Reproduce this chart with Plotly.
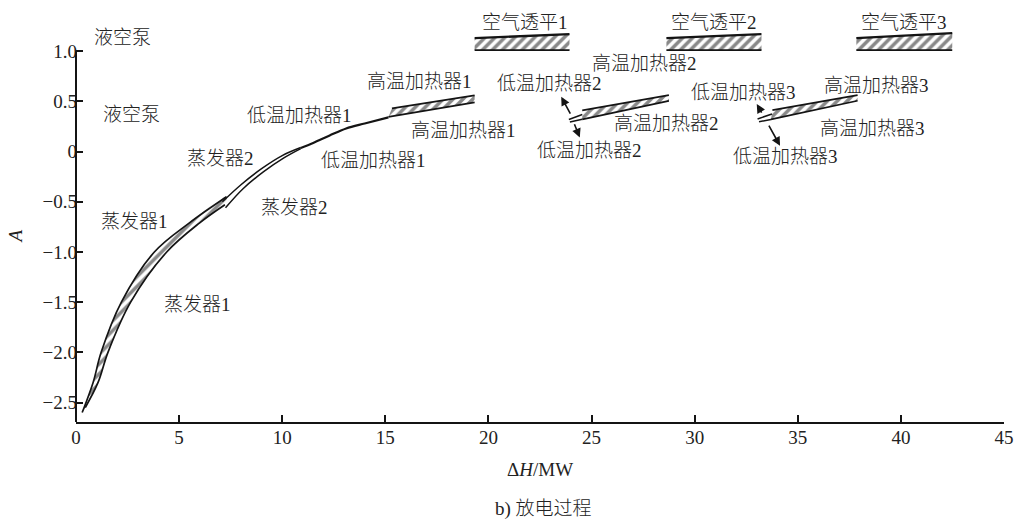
import plotly.graph_objects as go

# ---------------- data ----------------
x_ticks = [0, 5, 10, 15, 20, 25, 30, 35, 40, 45]
y_ticks = [-2.5, -2.0, -1.5, -1.0, -0.5, 0, 0.5, 1.0]
y_ticktext = ["\u22122.5", "\u22122.0", "\u22121.5", "\u22121.0", "\u22120.5", "0", "0.5", "1.0"]
x_range = [0, 45]
y_range = [-2.694, 1.5]

# evaporator 1 (hatched band between two composite curves)
evap1_hot_x = [0.30, 0.83, 1.22, 2.2, 3.8, 5.5, 7.3]
evap1_hot_a = [-2.60, -2.30, -2.00, -1.50, -1.00, -0.71, -0.45]
evap1_cold_x = [0.45, 1.07, 1.55, 2.65, 4.4, 6.0, 7.22]
evap1_cold_a = [-2.55, -2.30, -2.00, -1.50, -1.00, -0.71, -0.53]

# evaporator 2 (two close curves)
evap2_hot_x = [7.1, 8.0, 9.0, 10.0, 10.9]
evap2_hot_a = [-0.50, -0.33, -0.17, -0.04, 0.04]
evap2_cold_x = [7.25, 8.1, 9.1, 10.1, 10.9]
evap2_cold_a = [-0.56, -0.37, -0.20, -0.06, 0.03]

# low temperature heater 1
lth1_x = [10.9, 11.5, 12.3, 13.1, 14.0, 15.15]
lth1_a = [0.035, 0.085, 0.16, 0.23, 0.28, 0.34]

# high temperature heaters (hatched bands): upper and lower edges
hth_top_x = [[15.32, 19.33], [24.55, 28.75], [33.77, 37.9]]
hth_top_a = [[0.43, 0.56], [0.41, 0.563], [0.413, 0.563]]
hth_bot_x = [[15.15, 19.33], [24.55, 28.75], [33.7, 37.9]]
hth_bot_a = [[0.345, 0.49], [0.321, 0.505], [0.32, 0.506]]

# low temperature heaters 2 and 3 (short double segments)
lth_seg_x = [[[23.9, 24.55], [23.95, 24.55]], [[33.05, 33.75], [33.12, 33.7]]]
lth_seg_a = [[[0.32, 0.37], [0.295, 0.321]], [[0.325, 0.375], [0.297, 0.32]]]

# air turbines (hatched bands)
at_x = [[19.33, 23.93], [28.63, 33.24], [37.84, 42.49]]
at_top_a = [[1.13, 1.17], [1.13, 1.17], [1.13, 1.18]]
at_bot_a = [[1.01, 1.01], [1.01, 1.01], [1.01, 1.01]]

# labels
label_text = ["液空泵", "液空泵", "蒸发器2", "低温加热器1", "蒸发器2", "低温加热器1",
              "高温加热器1", "高温加热器1", "蒸发器1", "蒸发器1",
              "空气透平1", "空气透平2", "空气透平3",
              "高温加热器2", "低温加热器2", "高温加热器2", "低温加热器2",
              "低温加热器3", "高温加热器3", "高温加热器3", "低温加热器3"]
label_x = [2.26, 2.67, 6.99, 10.83, 10.58, 14.42,
           16.65, 18.79, 2.86, 5.87,
           21.75, 30.92, 40.15,
           27.57, 22.96, 28.64, 24.90,
           32.38, 38.83, 38.64, 34.42]
label_a = [1.14, 0.37, -0.065, 0.36, -0.56, -0.085,
           0.70, 0.21, -0.70, -1.52,
           1.29, 1.29, 1.29,
           0.88, 0.68, 0.28, 0.015,
           0.59, 0.66, 0.23, -0.045]

# arrows (tail -> tip)
arrow_tail_x = [24.01, 24.14, 33.29, 33.56]
arrow_tail_a = [0.364, 0.287, 0.374, 0.274]
arrow_tip_x = [23.53, 24.43, 33.01, 34.14]
arrow_tip_a = [0.546, 0.141, 0.473, 0.058]

# ---------------- figure ----------------
INK = "#141414"
TXT = "#222"
FONT = "Liberation Serif, 'Noto Sans CJK SC', serif"
HATCH = dict(shape="/", fgcolor=INK, bgcolor="white", size=7, solidity=0.5)
LABEL_FONT = dict(family=FONT, size=19, color=TXT, weight=300)

fig = go.Figure()


def band(xt, at, xb, ab, shape="linear", wtop=1.7, wbot=1.7):
    fig.add_trace(go.Scatter(x=list(xt) + list(xb)[::-1], y=list(at) + list(ab)[::-1],
                             mode="lines", fill="toself", fillcolor="white",
                             fillpattern=HATCH, line=dict(width=0, shape=shape),
                             hoverinfo="skip"))
    fig.add_trace(go.Scatter(x=xt, y=at, mode="lines",
                             line=dict(color=INK, width=wtop, shape=shape), hoverinfo="skip"))
    fig.add_trace(go.Scatter(x=xb, y=ab, mode="lines",
                             line=dict(color=INK, width=wbot, shape=shape), hoverinfo="skip"))


def line(x, a, w=1.5, shape="spline"):
    fig.add_trace(go.Scatter(x=x, y=a, mode="lines",
                             line=dict(color=INK, width=w, shape=shape), hoverinfo="skip"))


band(evap1_hot_x, evap1_hot_a, evap1_cold_x, evap1_cold_a, shape="spline")
line(evap2_hot_x, evap2_hot_a)
line(evap2_cold_x, evap2_cold_a)
line(lth1_x, lth1_a, w=2.2)

for i in range(3):
    band(hth_top_x[i], hth_top_a[i], hth_bot_x[i], hth_bot_a[i])
for seg_x, seg_a in zip(lth_seg_x, lth_seg_a):
    for sx, sa in zip(seg_x, seg_a):
        line(sx, sa, w=1.5, shape="linear")
for i in range(3):
    band(at_x[i], at_top_a[i], at_x[i], at_bot_a[i], wtop=2.4, wbot=1.8)

annotations = []
for t, x, a in zip(label_text, label_x, label_a):
    annotations.append(dict(x=x, y=a, xref="x", yref="y", text=t, showarrow=False,
                            xanchor="center", yanchor="middle", font=LABEL_FONT))
for tx, ta, hx, ha in zip(arrow_tail_x, arrow_tail_a, arrow_tip_x, arrow_tip_a):
    annotations.append(dict(x=hx, y=ha, ax=tx, ay=ta, xref="x", yref="y",
                            axref="x", ayref="y", text="", showarrow=True,
                            arrowhead=2, arrowsize=1.1, arrowwidth=1.6, arrowcolor=INK))

# axis titles and caption
annotations.append(dict(x=0.5, y=-0.112, xref="paper", yref="paper", text="\u0394<i>H</i>/MW",
                        xanchor="center", yanchor="middle",
                        showarrow=False, font=LABEL_FONT))
annotations.append(dict(x=0.504, y=-0.207, xref="paper", yref="paper", text="b) 放电过程",
                        xanchor="center", yanchor="middle",
                        showarrow=False, font=LABEL_FONT))
annotations.append(dict(x=-0.065, y=0.44, xref="paper", yref="paper", text="<i>A</i>",
                        xanchor="center", yanchor="middle",
                        textangle=-90, showarrow=False, font=LABEL_FONT))

# y axis line from bottom up to the top tick only
y_top_paper = (max(y_ticks) - y_range[0]) / (y_range[1] - y_range[0])
shapes = [dict(type="line", xref="paper", yref="paper", x0=0, x1=0, y0=0, y1=y_top_paper,
               line=dict(color=INK, width=2))]

fig.update_layout(
    width=1019, height=524, autosize=False,
    margin=dict(l=76, r=15, t=1, b=102),
    paper_bgcolor="white", plot_bgcolor="white",
    showlegend=False,
    annotations=annotations, shapes=shapes,
    xaxis=dict(range=x_range, tickvals=x_ticks, ticks="inside", ticklen=7, tickwidth=1.6,
               tickcolor=INK, showline=True, linewidth=2, linecolor=INK,
               showgrid=False, zeroline=False, automargin=False, ticklabelstandoff=-3,
               tickfont=dict(family=FONT, size=19, color=TXT)),
    yaxis=dict(range=y_range, tickvals=y_ticks, ticktext=y_ticktext, ticks="inside",
               ticklen=7, tickwidth=1.6, tickcolor=INK, showline=False,
               showgrid=False, zeroline=False, automargin=False, ticklabelstandoff=-2,
               tickfont=dict(family=FONT, size=19, color=TXT)),
)

fig.write_html("out.html", config={"displayModeBar": False},
               post_script="document.body.style.margin='0';document.body.style.overflow='hidden';")
